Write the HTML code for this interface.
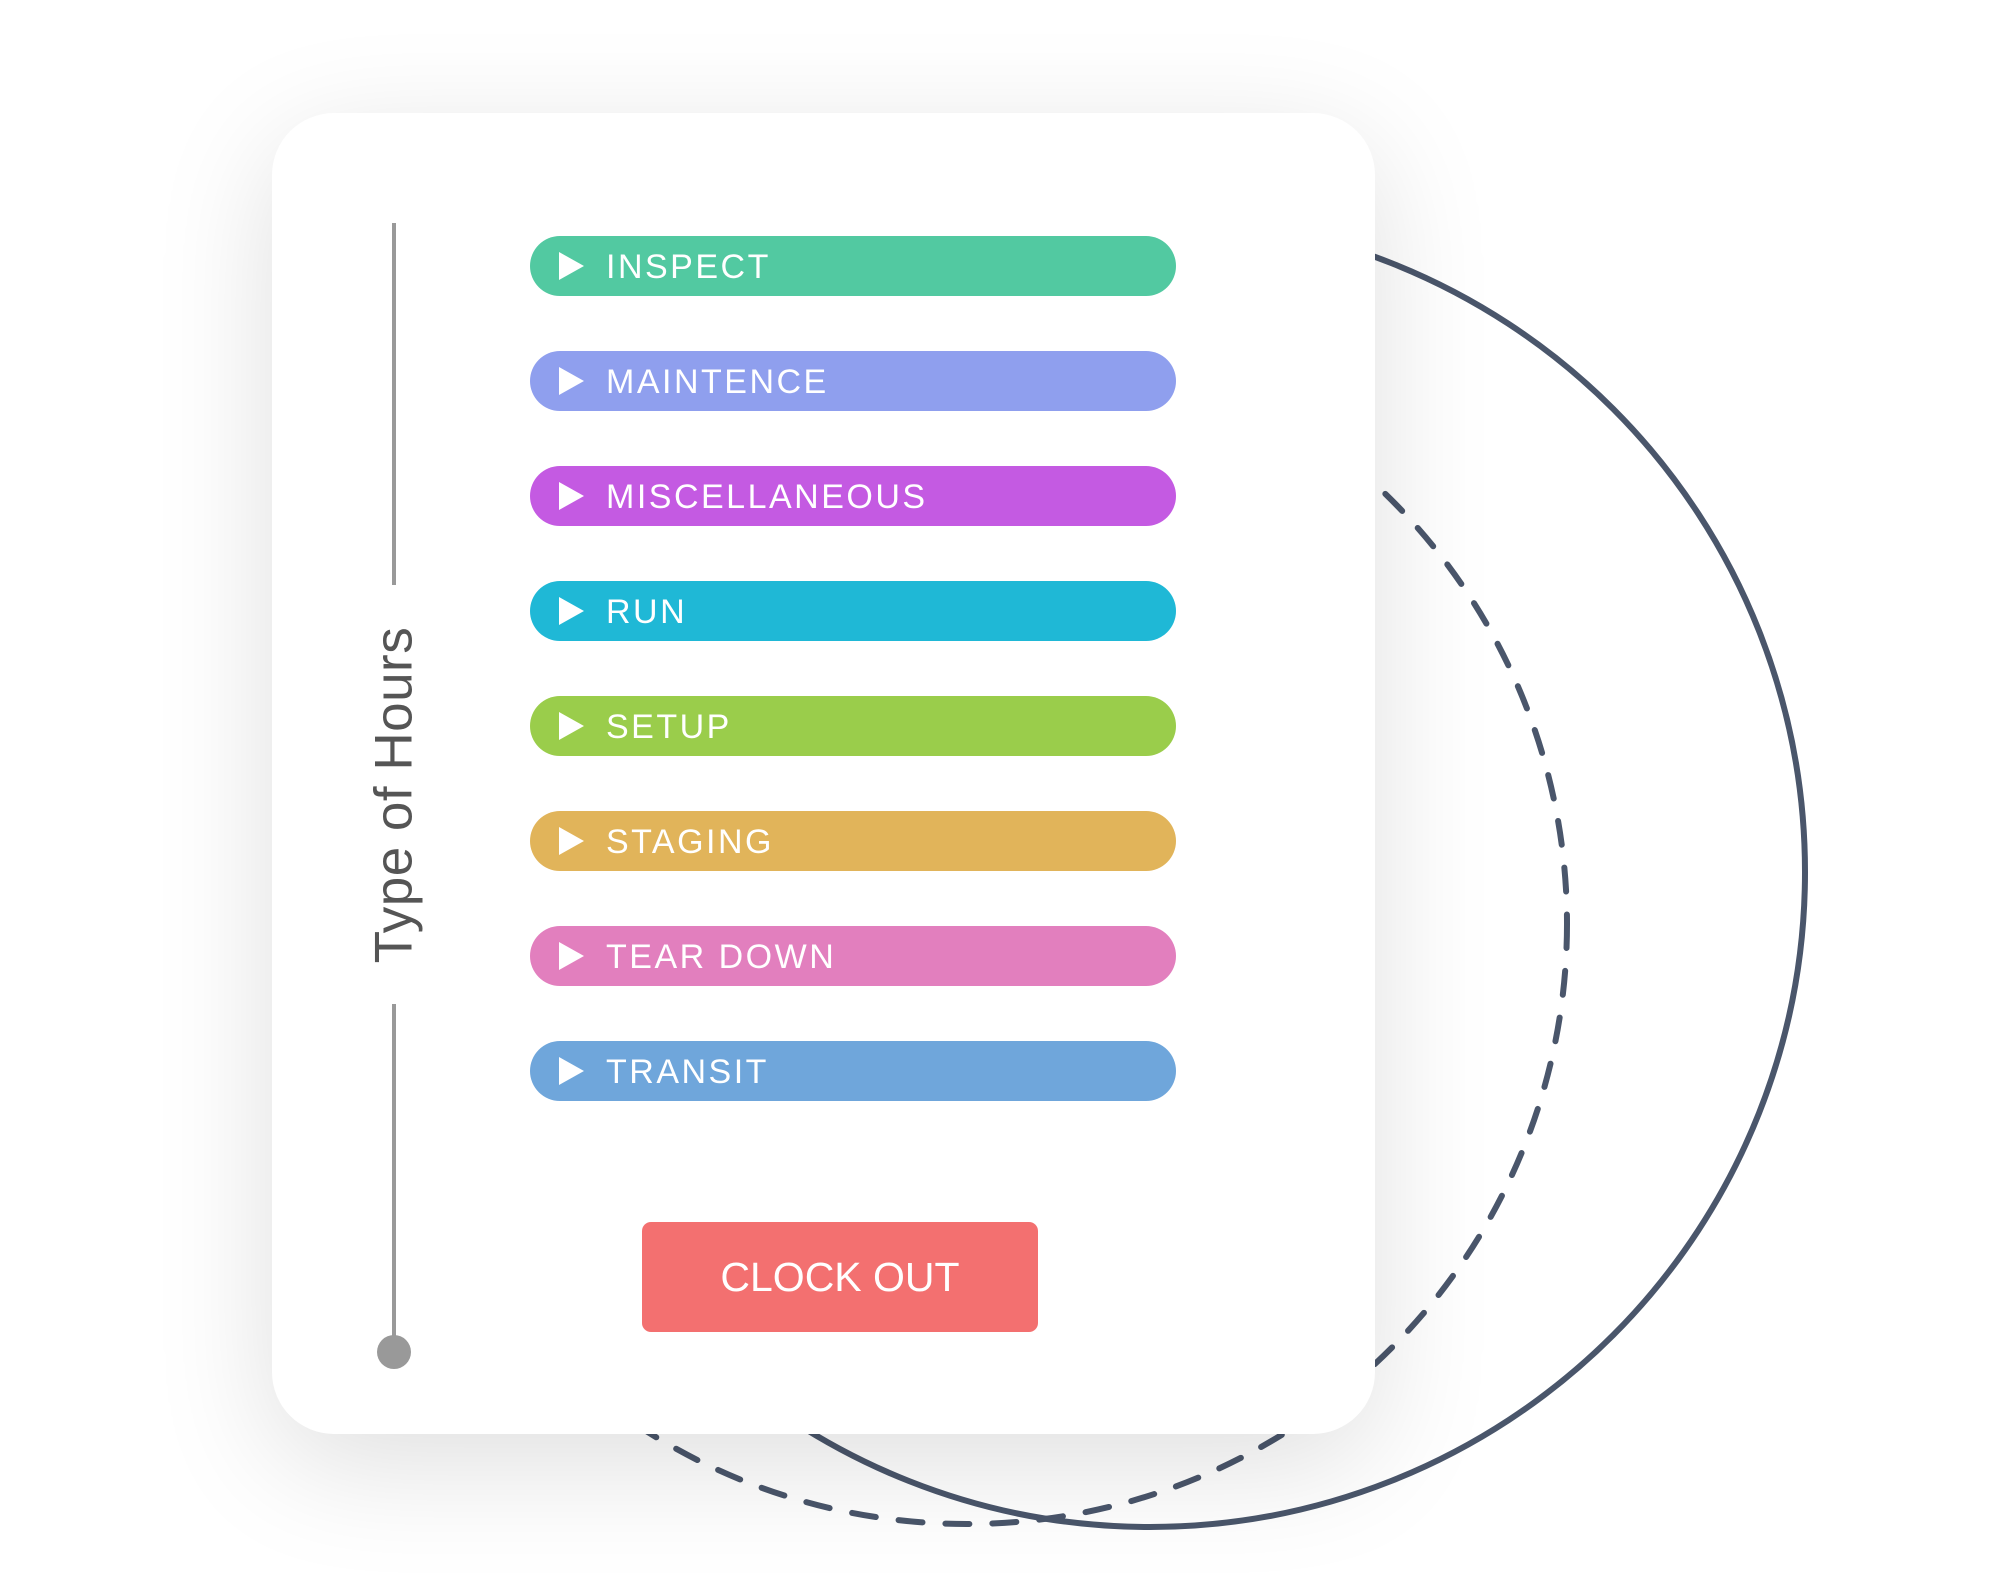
<!DOCTYPE html>
<html><head><meta charset="utf-8"><style>
html,body{margin:0;padding:0;background:#fff;}
body{width:2000px;height:1579px;position:relative;overflow:hidden;font-family:"Liberation Sans",sans-serif;}
svg.bg{position:absolute;left:0;top:0;}
.card{position:absolute;left:272px;top:113px;width:1103px;height:1321px;background:#fff;border-radius:62px;box-shadow:0 30px 120px rgba(0,0,0,0.13);}
.pill{position:absolute;left:530px;width:646px;height:60px;border-radius:30px;color:#fff;font-size:34px;letter-spacing:2.5px;line-height:60px;}
.pill span{position:absolute;left:76px;top:1px;}
.pill i{position:absolute;left:29px;top:16px;width:0;height:0;border-top:14px solid transparent;border-bottom:14px solid transparent;border-left:25px solid #fff;}
.vl{position:absolute;left:392px;width:4px;background:#999;}
.dot{position:absolute;left:377px;top:1335px;width:34px;height:34px;border-radius:50%;background:#999;}
.lbl{position:absolute;left:394px;top:795px;transform:translate(-50%,-50%) rotate(-90deg);font-size:53px;color:#555;white-space:nowrap;letter-spacing:0.5px;}
.btn{position:absolute;left:642px;top:1222px;width:396px;height:110px;background:#F37070;border-radius:9px;color:#fff;font-size:41px;text-align:center;line-height:110px;}
</style></head><body>
<svg class="bg" width="2000" height="1579">
<circle cx="1150" cy="872" r="655" fill="none" stroke="#4A566B" stroke-width="6"/>
<circle cx="967" cy="924" r="600" fill="none" stroke="#4A566B" stroke-width="6" stroke-dasharray="24 23" stroke-linecap="round"/>
</svg>
<div class="card"></div>
<div class="vl" style="top:223px;height:362px"></div>
<div class="vl" style="top:1004px;height:336px"></div>
<div class="dot"></div>
<div class="lbl">Type of Hours</div>
<div class="pill" style="top:236px;background:#52C9A1"><i></i><span>INSPECT</span></div>
<div class="pill" style="top:351px;background:#8F9FEE"><i></i><span>MAINTENCE</span></div>
<div class="pill" style="top:466px;background:#C45AE2"><i></i><span>MISCELLANEOUS</span></div>
<div class="pill" style="top:581px;background:#1FB8D6"><i></i><span>RUN</span></div>
<div class="pill" style="top:696px;background:#9ACD4B"><i></i><span>SETUP</span></div>
<div class="pill" style="top:811px;background:#E1B45A"><i></i><span>STAGING</span></div>
<div class="pill" style="top:926px;background:#E27FBE"><i></i><span>TEAR DOWN</span></div>
<div class="pill" style="top:1041px;background:#6FA6DB"><i></i><span>TRANSIT</span></div>
<div class="btn">CLOCK OUT</div>
</body></html>
